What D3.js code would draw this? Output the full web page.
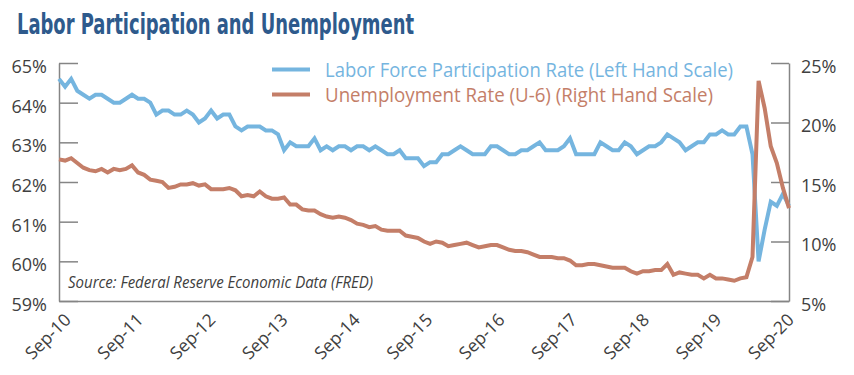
<!DOCTYPE html>
<html><head><meta charset="utf-8">
<script src="https://cdn.jsdelivr.net/npm/d3@7"></script>
<style>body{margin:0;background:#fff;} svg{display:block;}</style>
</head><body>
<svg id="chart" width="854" height="375"></svg>
<script>
// ---------- data ----------
const titleText = "Labor Participation and Unemployment";
const sourceText = "Source: Federal Reserve Economic Data (FRED)";
const seriesNames = ["Labor Force Participation Rate (Left Hand Scale)", "Unemployment Rate (U-6) (Right Hand Scale)"];
const xTickLabels = ["Sep-10","Sep-11","Sep-12","Sep-13","Sep-14","Sep-15","Sep-16","Sep-17","Sep-18","Sep-19","Sep-20"];
const leftTicks = [59, 60, 61, 62, 63, 64, 65];
const rightTicks = [5, 10, 15, 20, 25];
// Monthly, Sep 2010 .. Sep 2020
const lfpr = [
  64.6, 64.4, 64.6, 64.3,
  64.2, 64.1, 64.2, 64.2, 64.1, 64.0, 64.0, 64.1, 64.2, 64.1, 64.1, 64.0,
  63.7, 63.8, 63.8, 63.7, 63.7, 63.8, 63.7, 63.5, 63.6, 63.8, 63.6, 63.7,
  63.7, 63.4, 63.3, 63.4, 63.4, 63.4, 63.3, 63.3, 63.2, 62.8, 63.0, 62.9,
  62.9, 62.9, 63.1, 62.8, 62.9, 62.8, 62.9, 62.9, 62.8, 62.9, 62.9, 62.8,
  62.9, 62.8, 62.7, 62.7, 62.8, 62.6, 62.6, 62.6, 62.4, 62.5, 62.5, 62.7,
  62.7, 62.8, 62.9, 62.8, 62.7, 62.7, 62.7, 62.9, 62.9, 62.8, 62.7, 62.7,
  62.8, 62.8, 62.9, 63.0, 62.8, 62.8, 62.8, 62.9, 63.1, 62.7, 62.7, 62.7,
  62.7, 63.0, 62.9, 62.8, 62.8, 63.0, 62.9, 62.7, 62.8, 62.9, 62.9, 63.0,
  63.2, 63.1, 63.0, 62.8, 62.9, 63.0, 63.0, 63.2, 63.2, 63.3, 63.2, 63.2,
  63.4, 63.4, 62.7, 60.0, 60.8, 61.5, 61.4, 61.7, 61.4
];
const u6 = [
  16.9, 16.8, 17.0, 16.6,
  16.2, 16.0, 15.9, 16.1, 15.8, 16.1, 16.0, 16.1, 16.4, 15.8, 15.6, 15.2,
  15.1, 15.0, 14.5, 14.6, 14.8, 14.8, 14.9, 14.7, 14.8, 14.4, 14.4, 14.4,
  14.5, 14.3, 13.8, 13.9, 13.8, 14.2, 13.8, 13.6, 13.6, 13.7, 13.1, 13.1,
  12.7, 12.6, 12.6, 12.3, 12.1, 12.0, 12.1, 12.0, 11.8, 11.5, 11.4, 11.2,
  11.3, 11.0, 10.9, 10.9, 10.9, 10.5, 10.4, 10.3, 10.0, 9.8, 10.0, 9.9,
  9.6, 9.7, 9.8, 9.9, 9.7, 9.5, 9.6, 9.7, 9.7, 9.5, 9.3, 9.2,
  9.2, 9.1, 8.9, 8.7, 8.7, 8.7, 8.6, 8.6, 8.4, 8.0, 8.0, 8.1,
  8.1, 8.0, 7.9, 7.8, 7.8, 7.8, 7.5, 7.3, 7.5, 7.5, 7.6, 7.6,
  8.1, 7.2, 7.4, 7.3, 7.2, 7.2, 6.9, 7.2, 6.9, 6.9, 6.8, 6.7,
  6.9, 7.0, 8.7, 23.5, 21.2, 18.0, 16.6, 14.5, 12.8
];

// ---------- styles / layout ----------
const W = 854, H = 375;
const plot = {left: 59, right: 789, top: 63, bottom: 301};
const blue = "#75b5df", orange = "#c47e68", axisCol = "#858585", textCol = "#404040";
const tickFont = "'Open Sans', 'Noto Sans', sans-serif";

const svg = d3.select("#chart");
svg.append("rect").attr("width", W).attr("height", H).attr("fill", "#fff");

const x = d3.scaleLinear().domain([0, lfpr.length - 1]).range([plot.left, plot.right]);
const yL = d3.scaleLinear().domain([59, 65]).range([plot.bottom, plot.top]);
const yR = d3.scaleLinear().domain([5, 25]).range([plot.bottom, plot.top]);

// title
const title = svg.append("text")
  .attr("x", 17).attr("y", 33.5)
  .attr("font-family", "'Liberation Sans Narrow', 'DejaVu Sans Condensed', 'Roboto', sans-serif")
  .attr("font-weight", "bold").attr("font-size", 29)
  .attr("fill", "#2e5a8c").text(titleText);
title.attr("textLength", 397).attr("lengthAdjust", "spacingAndGlyphs");

// axes
function styleAxis(g) {
  g.select(".domain").attr("stroke", axisCol).attr("stroke-width", 1.5);
  g.selectAll(".tick line").attr("stroke", axisCol).attr("stroke-width", 1.5);
  g.selectAll(".tick text").attr("fill", textCol).attr("font-family", tickFont)
    .attr("font-size", 18).attr("dy", "0.52em");
}
const gL = svg.append("g").attr("transform", `translate(${plot.left},0)`)
  .call(d3.axisLeft(yL).tickValues(leftTicks).tickSize(-19).tickSizeOuter(0).tickPadding(12).tickFormat(d => d + "%"));
styleAxis(gL);
const gR = svg.append("g").attr("transform", `translate(${plot.right},0)`)
  .call(d3.axisRight(yR).tickValues(rightTicks).tickSize(-18).tickSizeOuter(0).tickPadding(12).tickFormat(d => d + "%"));
styleAxis(gR);
const gB = svg.append("g").attr("transform", `translate(0,${plot.bottom})`)
  .call(d3.axisBottom(x).tickValues([]).tickSizeOuter(0));
styleAxis(gB);

// x labels (rotated)
const labelX = d3.scaleLinear().domain([0, lfpr.length - 1]).range([plot.left + 13, plot.right + 6]);
svg.append("g").selectAll("text").data(xTickLabels).join("text")
  .attr("transform", (d, i) => `translate(${labelX(i * 12)},${plot.bottom + 20}) rotate(-45)`)
  .attr("text-anchor", "end")
  .attr("font-family", tickFont).attr("font-size", 17.5).attr("fill", textCol)
  .text(d => d);

// source
svg.append("text").attr("x", 68).attr("y", 288)
  .attr("font-family", tickFont).attr("font-style", "italic").attr("font-size", 17)
  .attr("fill", textCol).attr("textLength", 305).attr("lengthAdjust", "spacingAndGlyphs")
  .text(sourceText);

// lines
const lineL = d3.line().x((d, i) => x(i)).y(d => yL(d));
const lineR = d3.line().x((d, i) => x(i)).y(d => yR(d));
svg.append("path").datum(lfpr).attr("d", lineL)
  .attr("fill", "none").attr("stroke", blue).attr("stroke-width", 4);
svg.append("path").datum(u6).attr("d", lineR)
  .attr("fill", "none").attr("stroke", orange).attr("stroke-width", 4);

// legend
const legendColors = [blue, orange];
const legendWidths = [408, 388];
const lg = svg.append("g");
seriesNames.forEach((name, i) => {
  const yy = 69.5 + i * 25;
  lg.append("line").attr("x1", 272).attr("x2", 310).attr("y1", yy).attr("y2", yy)
    .attr("stroke", legendColors[i]).attr("stroke-width", 4);
  lg.append("text").attr("x", 325).attr("y", yy + 7.5)
    .attr("font-family", tickFont).attr("font-size", 20).attr("fill", legendColors[i])
    .attr("textLength", legendWidths[i]).attr("lengthAdjust", "spacingAndGlyphs")
    .text(name);
});
</script>
</body></html>
